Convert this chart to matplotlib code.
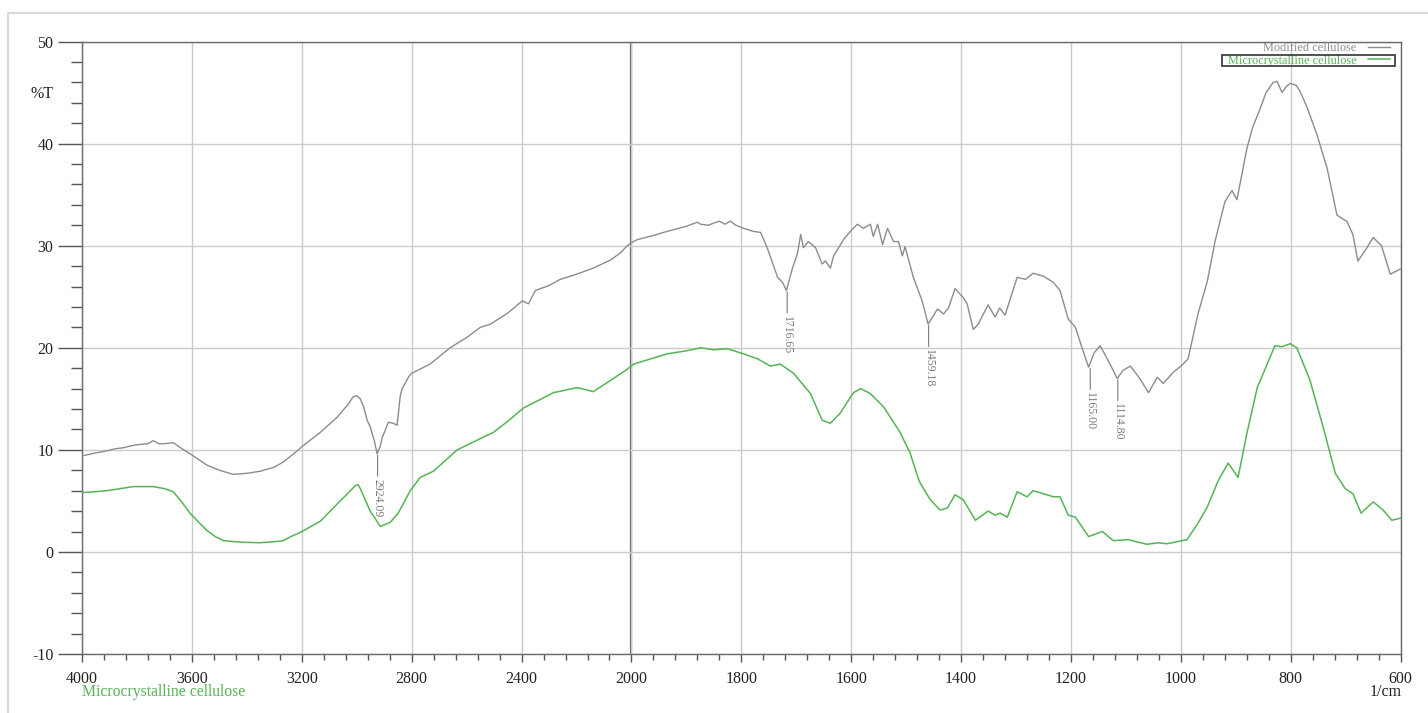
import numpy as np
import matplotlib
matplotlib.use('Agg')
import matplotlib.pyplot as plt
from matplotlib.patches import Rectangle
from matplotlib.lines import Line2D
from matplotlib.ticker import FixedLocator
from matplotlib.transforms import Bbox

plt.rcParams['font.family'] = ['Liberation Serif', 'DejaVu Serif']
plt.rcParams['axes.unicode_minus'] = False

# Modified cellulose spectrum (wavenumber 1/cm, %T)
mod_wn = [4000, 3950, 3909, 3880, 3850, 3820, 3800, 3760, 3741, 3720, 3700, 3668,
          3636, 3600, 3545, 3500, 3450, 3400, 3352, 3300, 3268, 3230, 3200, 3133,
          3071, 3030, 3013, 3000, 2987, 2975, 2962, 2950, 2944, 2935, 2926, 2915,
          2907, 2885, 2867, 2853, 2842, 2835, 2824, 2810, 2800, 2733, 2660, 2600,
          2550, 2514, 2450, 2397, 2375, 2350, 2300, 2259, 2200, 2139, 2076, 2040,
          2015, 2000, 1989, 1960, 1935, 1900, 1880, 1874, 1860, 1851, 1840, 1830,
          1820, 1810, 1796, 1778, 1765, 1753, 1734, 1725, 1718, 1707, 1698, 1692,
          1687, 1678, 1665, 1653, 1647, 1638, 1632, 1614, 1600, 1589, 1578, 1565,
          1560, 1552, 1543, 1534, 1523, 1514, 1507, 1502, 1487, 1471, 1460, 1443,
          1432, 1423, 1411, 1396, 1389, 1378, 1369, 1351, 1338, 1330, 1320, 1298,
          1283, 1269, 1250, 1232, 1220, 1205, 1192, 1180, 1168, 1158, 1147, 1130,
          1116, 1105, 1092, 1075, 1059, 1043, 1032, 1014, 1000, 987, 969, 952,
          938, 920, 907, 898, 880, 870, 856, 845, 832, 825, 816, 808, 801, 790,
          783, 770, 752, 734, 716, 705, 698, 687, 678, 665, 650, 635, 619, 601]
mod_t = [9.4, 9.7, 9.9, 10.1, 10.2, 10.4, 10.5, 10.6, 10.9, 10.6, 10.6, 10.7,
         10.1, 9.5, 8.5, 8.0, 7.6, 7.7, 7.9, 8.3, 8.8, 9.6, 10.3, 11.7,
         13.2, 14.5, 15.2, 15.3, 15.0, 14.2, 12.9, 12.2, 11.6, 10.8, 9.6, 10.3,
         11.2, 12.7, 12.6, 12.4, 15.2, 16.0, 16.5, 17.2, 17.5, 18.4, 20.0, 21.0,
         22.0, 22.3, 23.4, 24.6, 24.3, 25.6, 26.1, 26.7, 27.2, 27.8, 28.6, 29.3,
         30.0, 30.3, 30.6, 31.0, 31.4, 31.9, 32.3, 32.1, 32.0, 32.2, 32.4, 32.1,
         32.4, 32.0, 31.7, 31.4, 31.3, 29.8, 26.9, 26.4, 25.6, 27.8, 29.2, 31.1,
         29.8, 30.4, 29.8, 28.2, 28.5, 27.8, 29.0, 30.6, 31.5, 32.1, 31.7, 32.1,
         30.9, 32.1, 30.1, 31.7, 30.4, 30.4, 29.0, 29.9, 26.9, 24.6, 22.3, 23.8,
         23.3, 23.9, 25.8, 24.9, 24.3, 21.8, 22.3, 24.2, 23.0, 23.9, 23.2, 26.9,
         26.7, 27.3, 27.0, 26.4, 25.6, 22.8, 22.0, 20.0, 18.1, 19.5, 20.2, 18.5,
         17.0, 17.8, 18.2, 17.0, 15.6, 17.1, 16.5, 17.6, 18.2, 18.9, 23.3, 26.5,
         30.4, 34.3, 35.4, 34.5, 39.5, 41.5, 43.4, 45.0, 46.0, 46.1, 45.0, 45.6,
         45.9, 45.7, 45.1, 43.5, 40.8, 37.6, 33.0, 32.6, 32.4, 31.1, 28.5, 29.5,
         30.8, 30.0, 27.2, 27.7]

# Microcrystalline cellulose spectrum
mcc_wn = [4000, 3909, 3860, 3814, 3741, 3700, 3668, 3640, 3607, 3575, 3545, 3515,
          3485, 3420, 3352, 3300, 3268, 3240, 3206, 3133, 3060, 3030, 3005, 2995,
          2987, 2951, 2914, 2878, 2849, 2805, 2769, 2721, 2680, 2634, 2550, 2503,
          2450, 2393, 2342, 2284, 2197, 2139, 2076, 2015, 1996, 1935, 1900, 1874,
          1850, 1825, 1796, 1770, 1747, 1729, 1705, 1674, 1653, 1638, 1620, 1596,
          1583, 1565, 1541, 1511, 1493, 1478, 1474, 1456, 1438, 1425, 1411, 1396,
          1374, 1351, 1338, 1329, 1316, 1298, 1280, 1269, 1232, 1220, 1205, 1192,
          1168, 1143, 1123, 1096, 1062, 1041, 1025, 989, 969, 952, 932, 914,
          896, 880, 861, 843, 829, 816, 801, 789, 765, 741, 719, 701, 687, 672,
          650, 632, 616, 601]
mcc_t = [5.8, 6.0, 6.2, 6.4, 6.4, 6.2, 5.9, 5.0, 3.8, 2.9, 2.1, 1.5,
         1.1, 0.95, 0.9, 1.0, 1.1, 1.5, 1.9, 3.0, 5.0, 5.8, 6.5, 6.6,
         6.2, 4.0, 2.5, 2.9, 3.8, 6.0, 7.3, 7.9, 8.9, 10.0, 11.1, 11.7,
         12.8, 14.1, 14.8, 15.6, 16.1, 15.7, 16.8, 17.9, 18.4, 19.4, 19.7, 20.0,
         19.8, 19.9, 19.4, 18.9, 18.2, 18.4, 17.5, 15.5, 12.9, 12.6, 13.6, 15.6,
         16.0, 15.5, 14.2, 11.7, 9.7, 7.2, 6.7, 5.1, 4.1, 4.3, 5.6, 5.1,
         3.1, 4.0, 3.6, 3.8, 3.4, 5.9, 5.4, 6.0, 5.4, 5.4, 3.6, 3.4,
         1.5, 2.0, 1.1, 1.2, 0.75, 0.9, 0.8, 1.2, 2.8, 4.4, 7.0, 8.7,
         7.3, 11.6, 16.1, 18.4, 20.2, 20.1, 20.4, 20.0, 16.8, 12.2, 7.7, 6.2, 5.7, 3.8,
         4.9, 4.1, 3.1, 3.3]

peak_wn = [2924.09, 1716.65, 1459.18, 1165.00, 1114.80]
peak_t = [9.6, 25.6, 22.3, 18.1, 17.0]

x_major = [4000, 3600, 3200, 2800, 2400, 2000, 1800, 1600, 1400, 1200, 1000, 800, 600]

gray = '#8c8c8c'
green = '#55b455'


def fwd(x):
    x = np.asarray(x, dtype=float)
    return np.where(x > 2000, 2000 + (x - 2000) / 2, x)


def inv(u):
    u = np.asarray(u, dtype=float)
    return np.where(u > 2000, 2000 + (u - 2000) * 2, u)


fig = plt.figure(figsize=(14.28, 7.13), dpi=100)
ax = fig.add_axes([82 / 1428, 59 / 713, 1318.7 / 1428, 612.5 / 713])
ax.set_xscale('function', functions=(fwd, inv))
ax.set_xlim(4000, 600)
ax.set_ylim(-10, 50)

ax.xaxis.set_major_locator(FixedLocator(x_major))
minors = [v for v in range(2080, 4000, 80) if v % 400] + [v for v in range(640, 2000, 40) if v % 200]
ax.xaxis.set_minor_locator(FixedLocator(minors))
ax.set_xticklabels([str(v) for v in x_major])
ax.set_yticks(range(-10, 51, 10))
ax.set_yticks(range(-10, 51, 2), minor=True)

ax.grid(which='major', color='#cbcbcb', lw=1.0)
ax.axvline(2000, color='#5a5a5a', lw=1.6, zorder=1)
for s in ax.spines.values():
    s.set_color('#6a6a6a')
    s.set_linewidth(1.0)

ax.tick_params(axis='y', which='major', length=17, width=1, color='#555555',
               pad=3.5, labelsize=11.5, labelcolor='#222222')
ax.tick_params(axis='y', which='minor', length=8, width=1, color='#555555')
ax.tick_params(axis='x', which='major', length=6, width=1, color='#555555',
               pad=6, labelsize=11.5, labelcolor='#222222')
ax.tick_params(axis='x', which='minor', length=4.5, width=1, color='#555555')

ax.plot(mod_wn, mod_t, color=gray, lw=1.0, label='Modified cellulose', zorder=3)
ax.plot(mcc_wn, mcc_t, color=green, lw=1.1, label='Microcrystalline cellulose', zorder=3)

for wn, t in zip(peak_wn, peak_t):
    ax.annotate(f'{wn:.2f}', xy=(wn, t), xytext=(0, -18), textcoords='offset points',
                rotation=270, ha='center', va='top', fontsize=8.5, color='#7a7a7a',
                arrowprops=dict(arrowstyle='-', color='#7a7a7a', lw=0.8,
                                shrinkA=0, shrinkB=1))

leg = ax.legend(loc='upper right', bbox_to_anchor=(1390 / 1428, 1 - 42 / 713),
                bbox_transform=fig.transFigure, frameon=False, markerfirst=False,
                fontsize=8.8, handlelength=1.8, handletextpad=0.95,
                labelspacing=0.05, borderpad=0, borderaxespad=0,
                labelcolor=[gray, green])

fig.text(42 / 1428, 1 - 94 / 713, '%T', ha='center', va='center', fontsize=11.5,
         color='#222222')
fig.text(82 / 1428, 1 - 692 / 713, 'Microcrystalline cellulose', ha='left',
         va='center', fontsize=11.3, color=green)
fig.text(1401.7 / 1428, 1 - 692 / 713, '1/cm', ha='right', va='center',
         fontsize=11.5, color='#222222')

# light outer frame
fig.add_artist(Line2D([8 / 1428, 8 / 1428], [0, 1 - 13 / 713], transform=fig.transFigure,
                      color='#dadada', lw=1.5))
fig.add_artist(Line2D([8 / 1428, 1], [1 - 13 / 713, 1 - 13 / 713], transform=fig.transFigure,
                      color='#dadada', lw=1.5))

# box round the selected legend entry
fig.canvas.draw()
r = fig.canvas.get_renderer()
tb = leg.get_texts()[1].get_window_extent(r)
hb = leg.legend_handles[1].get_window_extent(r)
bb = Bbox.union([tb, hb])
bb = Bbox.from_extents(bb.x0 - 6, tb.y0 + 0.5, bb.x1 + 5, tb.y1 - 0.5)
bb = bb.transformed(fig.transFigure.inverted())
fig.add_artist(Rectangle((bb.x0, bb.y0), bb.width, bb.height, transform=fig.transFigure,
                         fill=False, edgecolor='#333333', lw=1.2))

fig.savefig('out.png', dpi=100)
